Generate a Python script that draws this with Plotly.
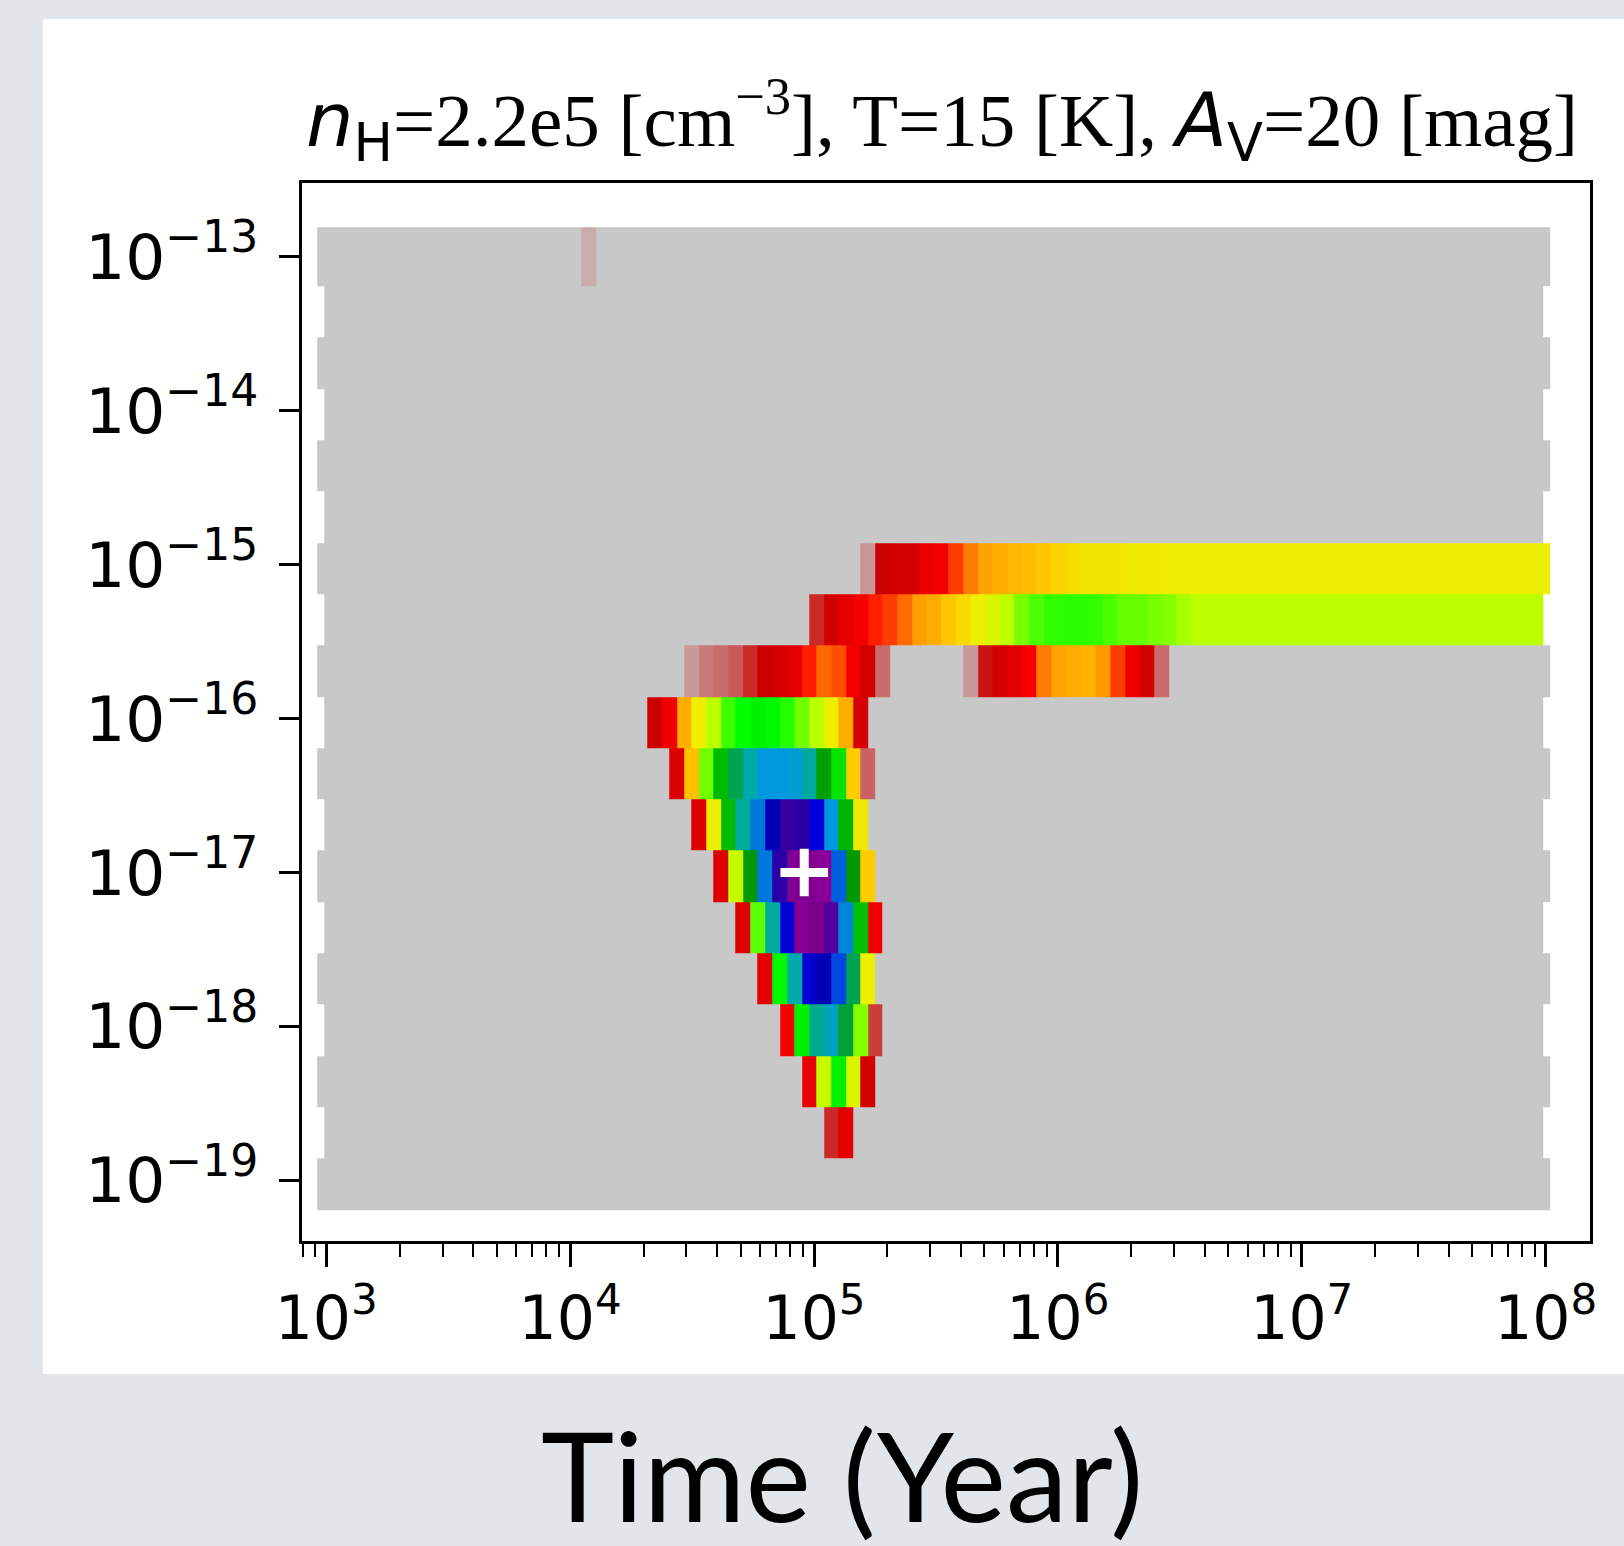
import math
import plotly.graph_objects as go

# ---------------- grid geometry (two interleaved lattices, log10 space) ----------------
X_MIN = 2.9932        # log10(yr) centre of first column of the full rows
X_STEP = 0.0602       # column width in decades
N_FULL = 84           # columns in even (full) rows
N_HALF = 83           # columns in odd (offset) rows
Y_TOP = -13.025       # log10 centre of top row
Y_STEP = 1.0 / 3.0    # row pitch in decades
N_ROWS = 19
TOP_TIP = 0.05        # top border of the grid extends a little
BACKGROUND = 1.0      # value of every uncoloured cell (grey end of the colour map)

# ---------------- coloured cells: (row from top, first column, values) ----------------
row00 = (0, 18, [0.993])
row06 = (6, 37, [0.9875, 0.95, 0.93, 0.92, 0.88, 0.865, 0.83, 0.81, 0.79, 0.78, 0.77,
                 0.765, 0.755, 0.74, 0.725, 0.715, 0.715, 0.712, 0.707, 0.707, 0.705,
                 0.70, 0.70, 0.70, 0.70, 0.70, 0.70, 0.70, 0.70, 0.70, 0.70, 0.70, 0.70,
                 0.70, 0.70, 0.70, 0.70, 0.70, 0.70, 0.70, 0.70, 0.70, 0.70, 0.70, 0.70,
                 0.70, 0.70])
row07 = (7, 33, [0.96, 0.93, 0.89, 0.865, 0.84, 0.83, 0.815, 0.795, 0.78, 0.755, 0.73,
                 0.70, 0.68, 0.65, 0.632, 0.62, 0.613, 0.612, 0.612, 0.613, 0.62, 0.627,
                 0.627, 0.632, 0.635, 0.645,
                 0.65, 0.65, 0.65, 0.65, 0.65, 0.65, 0.65, 0.65, 0.65, 0.65, 0.65, 0.65,
                 0.65, 0.65, 0.65, 0.65, 0.65, 0.65, 0.65, 0.65, 0.65, 0.65, 0.65, 0.65])
row08a = (8, 25, [0.988, 0.98, 0.977, 0.972, 0.96, 0.95, 0.92, 0.89, 0.84, 0.817, 0.825,
                  0.87, 0.93, 0.977])
row08b = (8, 44, [0.988, 0.955, 0.92, 0.89, 0.86, 0.81, 0.79, 0.78, 0.775, 0.80, 0.83,
                  0.87, 0.93, 0.977])
row09 = (9, 22, [0.95, 0.87, 0.78, 0.70, 0.65, 0.616, 0.60, 0.58, 0.59, 0.61, 0.63, 0.65,
                 0.70, 0.78, 0.92])
row10 = (10, 24, [0.90, 0.76, 0.63, 0.50, 0.42, 0.35, 0.30, 0.30, 0.31, 0.37, 0.46, 0.56,
                  0.75, 0.975])
row11 = (11, 25, [0.90, 0.70, 0.50, 0.37, 0.25, 0.16, 0.13, 0.135, 0.20, 0.30, 0.49, 0.71])
row12 = (12, 27, [0.90, 0.66, 0.45, 0.25, 0.135, 0.075, 0.08, 0.10, 0.24, 0.45, 0.75])
row13 = (13, 28, [0.90, 0.625, 0.37, 0.19, 0.085, 0.065, 0.12, 0.27, 0.51, 0.87])
row14 = (14, 30, [0.89, 0.59, 0.35, 0.19, 0.16, 0.23, 0.42, 0.70])
row15 = (15, 31, [0.86, 0.58, 0.39, 0.33, 0.43, 0.635, 0.965])
row16 = (16, 33, [0.885, 0.66, 0.58, 0.68, 0.93])
row17 = (17, 34, [0.96, 0.89])

best_time_log = 4.96      # best-fit point (log10 yr)
best_y_log = -17.0

x_tick_exps = [3, 4, 5, 6, 7, 8]
y_tick_exps = [-13, -14, -15, -16, -17, -18, -19]

title_text = ('<span style="font-family:DejaVu Sans"><i>n</i><sub>H</sub></span>=2.2e5 [cm'
              '<sup>−3</sup>], T=15 [K], <span style="font-family:DejaVu Sans"><i>A</i>'
              '<sub>V</sub></span>=20 [mag]')
xlabel_text = 'Time (Year)'

# ---------------- nipy_spectral colour map ----------------
cmap = [
    [0.00, 'rgb(0,0,0)'], [0.05, 'rgb(119,0,136)'], [0.10, 'rgb(136,0,153)'],
    [0.15, 'rgb(0,0,170)'], [0.20, 'rgb(0,0,221)'], [0.25, 'rgb(0,119,221)'],
    [0.30, 'rgb(0,153,221)'], [0.35, 'rgb(0,170,170)'], [0.40, 'rgb(0,170,136)'],
    [0.45, 'rgb(0,153,0)'], [0.50, 'rgb(0,187,0)'], [0.55, 'rgb(0,221,0)'],
    [0.60, 'rgb(0,255,0)'], [0.65, 'rgb(187,255,0)'], [0.70, 'rgb(238,238,0)'],
    [0.75, 'rgb(255,204,0)'], [0.80, 'rgb(255,153,0)'], [0.85, 'rgb(255,0,0)'],
    [0.90, 'rgb(221,0,0)'], [0.95, 'rgb(204,0,0)'], [1.00, 'rgb(200,200,200)'],
]

# ---------------- build the two lattices ----------------
full_rows = [[BACKGROUND] * N_FULL if k % 2 == 0 else None for k in range(N_ROWS)]
half_rows = [[BACKGROUND] * N_HALF if k % 2 == 1 else None for k in range(N_ROWS)]
for (k, c0, vals) in [row00, row06, row07, row08a, row08b, row09, row10, row11, row12,
                      row13, row14, row15, row16, row17]:
    target = full_rows if k % 2 == 0 else half_rows
    for j, v in enumerate(vals):
        target[k][c0 + j] = v

# one raster at half-column resolution: full-row cell i -> half columns 2i, 2i+1;
# offset-row cell i -> half columns 2i+1, 2i+2
nan = float('nan')
n_sub = 2 * N_FULL
z = []
for k in range(N_ROWS):
    line = [nan] * n_sub
    if k % 2 == 0:
        for i, v in enumerate(full_rows[k]):
            line[2 * i] = v
            line[2 * i + 1] = v
    else:
        for i, v in enumerate(half_rows[k]):
            line[2 * i + 1] = v
            line[2 * i + 2] = v
    z.append(line)

x_edges = [X_MIN - X_STEP / 2 + m * X_STEP / 2 for m in range(n_sub + 1)]
y_edges = [Y_TOP + Y_STEP / 2 - k * Y_STEP for k in range(N_ROWS + 1)]
y_edges[0] += TOP_TIP
y_edges = y_edges[::-1]
z = z[::-1]

fig = go.Figure()
fig.add_trace(go.Heatmap(x=x_edges, y=y_edges, z=z, colorscale=cmap, zmin=0, zmax=1,
                         showscale=False, hoverinfo='skip'))
fig.add_trace(go.Scatter(x=[best_time_log], y=[best_y_log], mode='markers',
                         marker=dict(symbol='cross-thin', size=34, color='white',
                                     line=dict(color='white', width=9)),
                         hoverinfo='skip'))

# ---------------- axes ----------------
X_RANGE = [2.9008, 8.1816]
Y_RANGE = [-19.394, -12.521]
minor_x = []
for e in range(2, 9):
    for m in range(2, 10):
        v = e + math.log10(m)
        if X_RANGE[0] <= v <= X_RANGE[1]:
            minor_x.append(v)

fig.update_xaxes(range=X_RANGE, showgrid=False, zeroline=False,
                 showline=True, linecolor='black', linewidth=3, mirror=True,
                 tickmode='array', tickvals=x_tick_exps,
                 ticktext=['10<sup>%d</sup>' % e for e in x_tick_exps],
                 ticks='outside', ticklen=23, tickwidth=2.7, tickcolor='black',
                 tickfont=dict(family='DejaVu Sans', size=60, color='black'),
                 minor=dict(tickmode='array', tickvals=minor_x, ticks='outside',
                            ticklen=13, tickwidth=2.2, tickcolor='black', showgrid=False))
fig.update_yaxes(range=Y_RANGE, showgrid=False, zeroline=False,
                 showline=True, linecolor='black', linewidth=3, mirror=True,
                 tickmode='array', tickvals=y_tick_exps,
                 ticktext=['10<sup>−%d</sup>' % (-e) for e in y_tick_exps],
                 ticks='outside', ticklen=20, tickwidth=2.7, tickcolor='black',
                 ticklabelstandoff=8,
                 tickfont=dict(family='DejaVu Sans', size=63, color='black'))

L, R, T, B = 302, 34, 183, 305
W, H = 1624, 1546
pw, ph = W - L - R, H - T - B


def px(x):
    return (x - L) / pw


def py(y):
    return (H - B - y) / ph


fig.update_layout(
    width=W, height=H, margin=dict(l=L, r=R, t=T, b=B, pad=0),
    paper_bgcolor='#e3e6e9', plot_bgcolor='white', showlegend=False,
    shapes=[dict(type='rect', xref='paper', yref='paper', x0=px(43), x1=px(1630),
                 y0=py(1374), y1=py(19), fillcolor='white', line=dict(width=0),
                 layer='below')],
    annotations=[
        dict(text=title_text, xref='paper', yref='paper', x=px(942), y=py(120),
             xanchor='center', yanchor='middle', showarrow=False,
             font=dict(family='Liberation Serif', size=75, color='black')),
        dict(text=xlabel_text, xref='paper', yref='paper', x=px(842), y=py(1474),
             xanchor='center', yanchor='middle', showarrow=False,
             font=dict(family='Lato', size=124, color='black')),
    ],
)

fig.write_html('out.html')
